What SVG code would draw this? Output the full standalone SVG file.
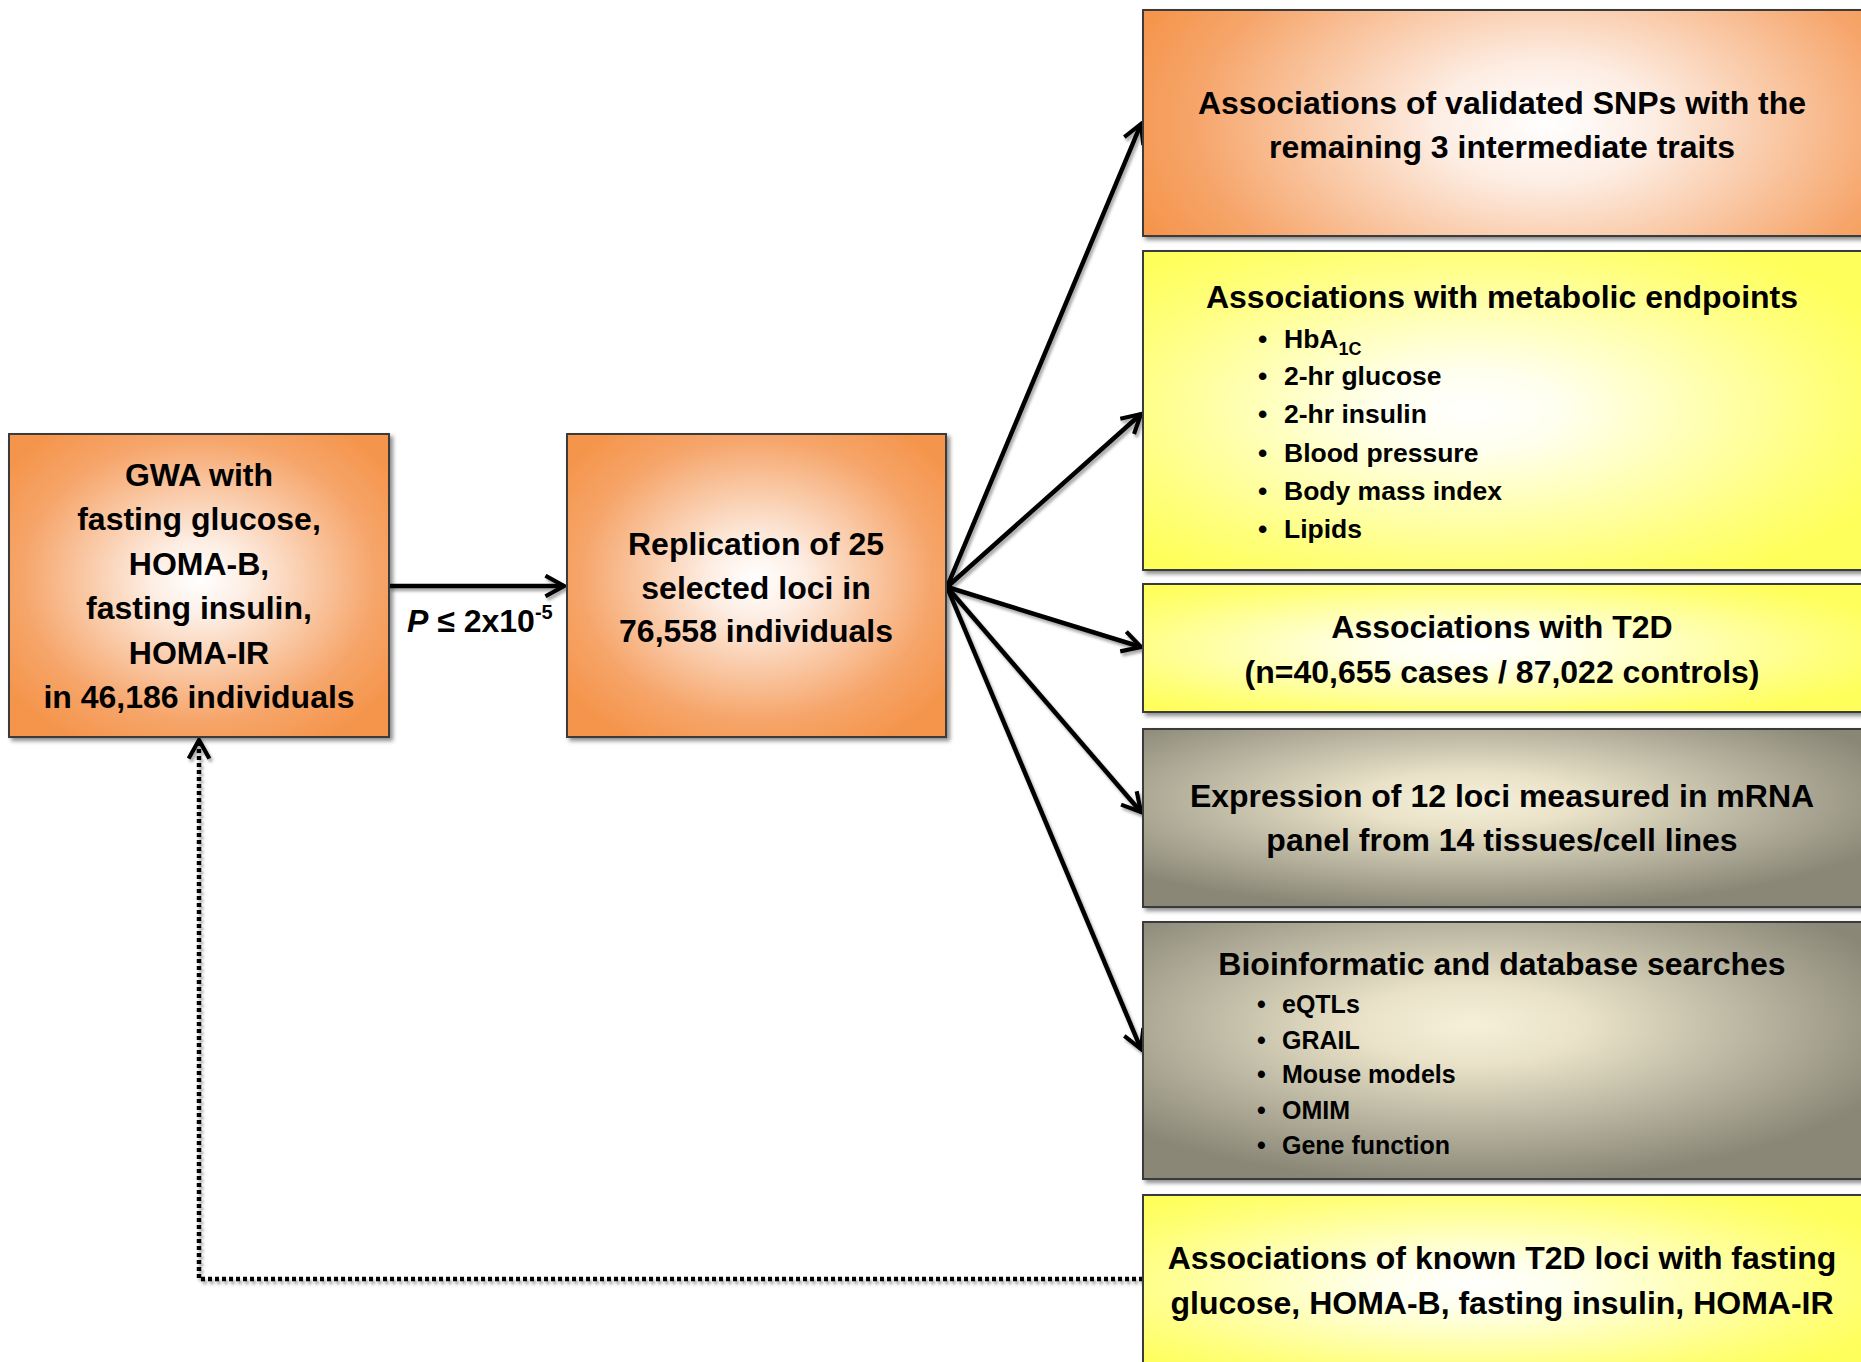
<svg xmlns="http://www.w3.org/2000/svg" width="1861" height="1362" viewBox="0 0 1861 1362">
  <style>
    .t { font-family: "Liberation Sans", Arial, sans-serif; font-weight: bold; fill: #000; }
    .c { text-anchor: middle; font-size: 32px; }
    .b { font-size: 26.5px; }
    .b2 { font-size: 25px; }
    .box { stroke: #3a3a3a; stroke-width: 2; filter: url(#shadow); }
    .conn { stroke: #000; stroke-width: 4.5; fill: none; marker-end: url(#arrow); }
  </style>
  <defs>
    <filter id="shadow" x="-5%" y="-5%" width="115%" height="115%">
      <feDropShadow dx="3" dy="3" stdDeviation="2" flood-color="#000" flood-opacity="0.45"/>
    </filter>
    <filter id="lshadow" x="-5%" y="-5%" width="115%" height="115%">
      <feDropShadow dx="2" dy="3" stdDeviation="1.5" flood-color="#000" flood-opacity="0.35"/>
    </filter>
    <radialGradient id="orange" cx="50%" cy="48%" r="62%">
      <stop offset="0" stop-color="#FFFFFF"/>
      <stop offset="0.2" stop-color="#FDEEE4"/>
      <stop offset="0.75" stop-color="#F6A56A"/>
      <stop offset="1" stop-color="#F5954C"/>
    </radialGradient>
    <radialGradient id="orangeWide" cx="55%" cy="50%" r="60%" gradientTransform="translate(0.55,0.5) scale(1,1.8) translate(-0.55,-0.5)">
      <stop offset="0" stop-color="#FFFFFF"/>
      <stop offset="0.25" stop-color="#FDEDE3"/>
      <stop offset="0.8" stop-color="#F6A56A"/>
      <stop offset="1" stop-color="#F5954C"/>
    </radialGradient>
    <radialGradient id="yellow" cx="45%" cy="50%" r="62%">
      <stop offset="0" stop-color="#FFFFFF"/>
      <stop offset="0.2" stop-color="#FFFFEE"/>
      <stop offset="0.8" stop-color="#FFFF7A"/>
      <stop offset="1" stop-color="#FFFF5C"/>
    </radialGradient>
    <radialGradient id="gray" cx="45%" cy="40%" r="62%">
      <stop offset="0" stop-color="#F6F0DA"/>
      <stop offset="0.25" stop-color="#E9E2C8"/>
      <stop offset="0.75" stop-color="#A9A592"/>
      <stop offset="1" stop-color="#8A8777"/>
    </radialGradient>
    <marker id="arrow" viewBox="0 0 12 12" refX="10.5" refY="6" markerWidth="5.5" markerHeight="5.5" orient="auto" markerUnits="strokeWidth">
      <path d="M1.5,1 L10.5,6 L1.5,11" fill="none" stroke="#000" stroke-width="2" stroke-dasharray="none" stroke-linejoin="miter"/>
    </marker>
  </defs>
  <rect width="1861" height="1362" fill="#FFFFFF"/>

  <g id="connectors" filter="url(#lshadow)">
    <line class="conn" x1="389" y1="586" x2="564" y2="586"/>
    <line class="conn" x1="947" y1="587" x2="1141" y2="124"/>
    <line class="conn" x1="947" y1="587" x2="1141" y2="414"/>
    <line class="conn" x1="947" y1="587" x2="1141" y2="647"/>
    <line class="conn" x1="947" y1="587" x2="1141" y2="812"/>
    <line class="conn" x1="947" y1="587" x2="1141" y2="1049"/>
    <path class="conn" d="M1143,1279 H199 V740" stroke-dasharray="4 3" stroke-width="5"/>
  </g>

  <g id="edge-label">
    <text class="t" x="407" y="632" font-size="32"><tspan font-style="italic">P</tspan> ≤ 2x10<tspan font-size="20" dy="-13">-5</tspan></text>
  </g>

  <g id="node-gwa">
    <rect class="box" x="9" y="434" width="380" height="303" fill="url(#orange)"/>
    <text class="t c" x="199" y="486">GWA with</text>
    <text class="t c" x="199" y="530">fasting glucose,</text>
    <text class="t c" x="199" y="575">HOMA-B,</text>
    <text class="t c" x="199" y="619">fasting insulin,</text>
    <text class="t c" x="199" y="664">HOMA-IR</text>
    <text class="t c" x="199" y="708">in 46,186 individuals</text>
  </g>

  <g id="node-replication">
    <rect class="box" x="567" y="434" width="379" height="303" fill="url(#orange)"/>
    <text class="t c" x="756" y="555">Replication of 25</text>
    <text class="t c" x="756" y="599">selected loci in</text>
    <text class="t c" x="756" y="642">76,558 individuals</text>
  </g>

  <g id="node-validated">
    <rect class="box" x="1143" y="10" width="730" height="226" fill="url(#orangeWide)"/>
    <text class="t c" x="1502" y="114">Associations of validated SNPs with the</text>
    <text class="t c" x="1502" y="158">remaining 3 intermediate traits</text>
  </g>

  <g id="node-metabolic">
    <rect class="box" x="1143" y="251" width="730" height="319" fill="url(#yellow)"/>
    <text class="t c" x="1502" y="308">Associations with metabolic endpoints</text>
    <text class="t b" x="1258" y="348">•</text><text class="t b" x="1284" y="348">HbA<tspan font-size="18" dy="7">1C</tspan></text>
    <text class="t b" x="1258" y="385">•</text><text class="t b" x="1284" y="385">2-hr glucose</text>
    <text class="t b" x="1258" y="423">•</text><text class="t b" x="1284" y="423">2-hr insulin</text>
    <text class="t b" x="1258" y="462">•</text><text class="t b" x="1284" y="462">Blood pressure</text>
    <text class="t b" x="1258" y="500">•</text><text class="t b" x="1284" y="500">Body mass index</text>
    <text class="t b" x="1258" y="538">•</text><text class="t b" x="1284" y="538">Lipids</text>
  </g>

  <g id="node-t2d">
    <rect class="box" x="1143" y="584" width="730" height="128" fill="url(#yellow)"/>
    <text class="t c" x="1502" y="638">Associations with T2D</text>
    <text class="t c" x="1502" y="683">(n=40,655 cases / 87,022 controls)</text>
  </g>

  <g id="node-expression">
    <rect class="box" x="1143" y="729" width="730" height="178" fill="url(#gray)"/>
    <text class="t c" x="1502" y="807">Expression of 12 loci measured in mRNA</text>
    <text class="t c" x="1502" y="851">panel from 14 tissues/cell lines</text>
  </g>

  <g id="node-bioinformatic">
    <rect class="box" x="1143" y="922" width="730" height="257" fill="url(#gray)"/>
    <text class="t c" x="1502" y="975">Bioinformatic and database searches</text>
    <text class="t b2" x="1257" y="1013">•</text><text class="t b2" x="1282" y="1013">eQTLs</text>
    <text class="t b2" x="1257" y="1049">•</text><text class="t b2" x="1282" y="1049">GRAIL</text>
    <text class="t b2" x="1257" y="1083">•</text><text class="t b2" x="1282" y="1083">Mouse models</text>
    <text class="t b2" x="1257" y="1119">•</text><text class="t b2" x="1282" y="1119">OMIM</text>
    <text class="t b2" x="1257" y="1154">•</text><text class="t b2" x="1282" y="1154">Gene function</text>
  </g>

  <g id="node-known">
    <rect class="box" x="1143" y="1195" width="730" height="180" fill="url(#yellow)"/>
    <text class="t c" x="1502" y="1269">Associations of known T2D loci with fasting</text>
    <text class="t c" x="1502" y="1314">glucose, HOMA-B, fasting insulin, HOMA-IR</text>
  </g>
</svg>
